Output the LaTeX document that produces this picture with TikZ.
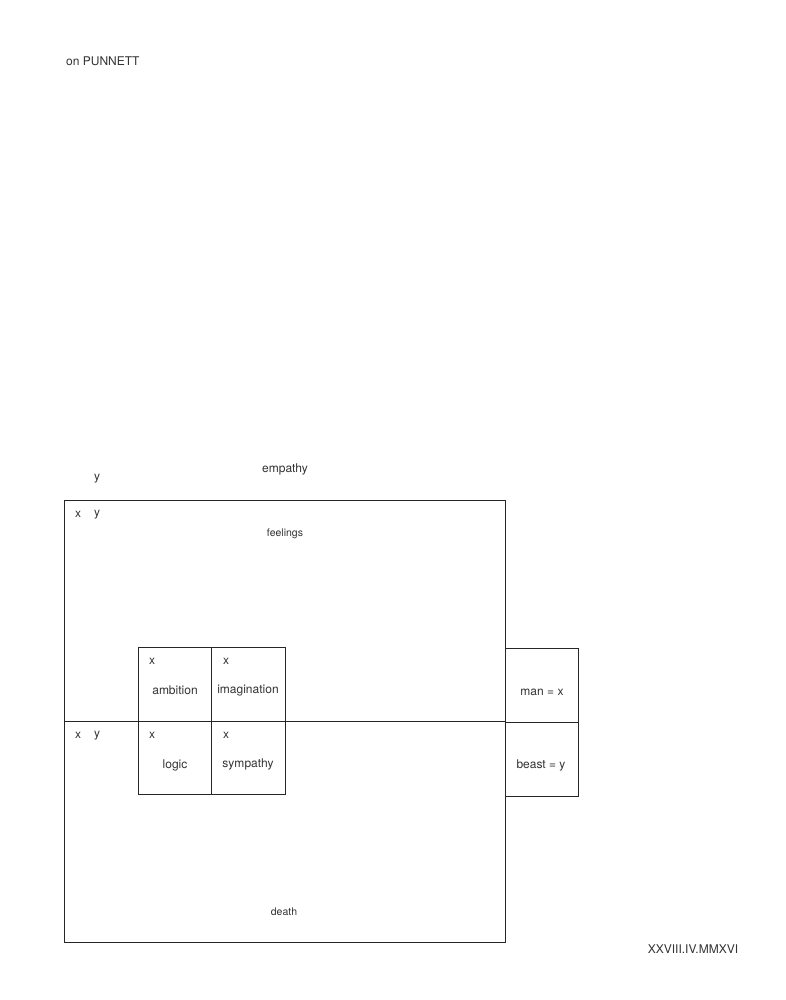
\documentclass[tikz,border=0pt]{standalone}
\usepackage{fontspec}
\setmainfont{TeX Gyre Heros}
\begin{document}
\begin{tikzpicture}[x=1pt,y=-1pt,
  lbl/.style={inner sep=0pt,font=\fontsize{12}{14}\selectfont,text=black!80},
  slbl/.style={inner sep=0pt,font=\fontsize{10.5}{12}\selectfont,text=black!80},
  box/.style={draw=black!85,line width=0.95pt},
  ln/.style={draw=black!85,line width=0.95pt}]
\useasboundingbox (0,0) rectangle (786,1000);
\fill[white] (0,0) rectangle (786,1000);
% main box
\coordinate (B1) at (64,500);
\coordinate (B2) at (505,942);
\draw[box] (B1) rectangle (B2);
\coordinate (HL) at (64,721);
\coordinate (HR) at (505,721);
\draw[ln] (HL) -- (HR);
% small boxes
\coordinate (S1) at (138,647);
\coordinate (S2) at (285,794);
\draw[box] (S1) rectangle (S2);
\coordinate (SV1) at (211,647);
\coordinate (SV2) at (211,794);
\draw[ln] (SV1) -- (SV2);
% right box
\coordinate (R1) at (505,648);
\coordinate (R2) at (578,796);
\draw[box] (R1) rectangle (R2);
\coordinate (RH1) at (505,722);
\coordinate (RH2) at (578,722);
\draw[ln] (RH1) -- (RH2);
% texts
\node[lbl,anchor=base west] (title) at (66,66) {on PUNNETT};
\node[lbl] (ytop) at (97,478.5) {y};
\node[lbl] (emp) at (285,469.5) {empathy};
\node[lbl] (x1) at (78,514.5) {x};
\node[lbl] (y1) at (97,514.5) {y};
\node[slbl] (feel) at (285,533.5) {feelings};
\node[lbl] (x2) at (78,735.5) {x};
\node[lbl] (y2) at (97,735.5) {y};
\node[lbl] (xa) at (152,661.5) {x};
\node[lbl] (xb) at (226,661.5) {x};
\node[lbl] (xc) at (152,735.5) {x};
\node[lbl] (xd) at (226,735.5) {x};
\node[lbl] (amb) at (175,690.5) {ambition};
\node[lbl] (img) at (248,690.5) {imagination};
\node[lbl] (log) at (175,765.5) {logic};
\node[lbl] (sym) at (248,764.5) {sympathy};
\node[lbl] (man) at (542,692.5) {man = x};
\node[lbl] (beast) at (541,765.5) {beast = y};
\node[slbl] (death) at (284,911.5) {death};
\node[lbl] (date) at (693,949.5) {XXVIII.IV.MMXVI};
\end{tikzpicture}
\end{document}
